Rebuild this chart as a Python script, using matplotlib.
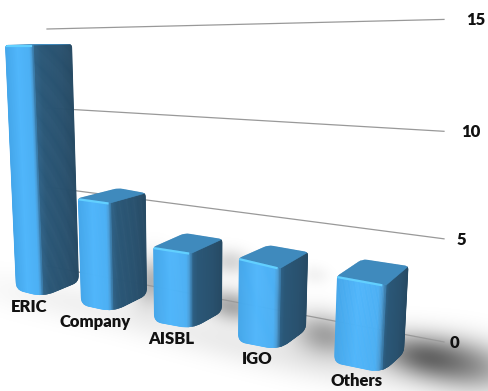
import numpy as np
from matplotlib import pyplot as plt
from matplotlib.colors import LinearSegmentedColormap
from matplotlib.patches import PathPatch, Polygon
from matplotlib.path import Path

categories = ["ERIC", "Company", "AISBL", "IGO", "Others"]
values = [14, 6, 4, 4, 4]
ticks = [0, 5, 10, 15]

# floor corners of every bar: front-left, front, front-right, back (x, y, px per unit)
floor = [
    [(16, 290, 17.5), (43, 297, 18.0), (79, 282, 17.0), (50, 268, 16.0)],
    [(81, 305, 17.8), (113, 312, 18.2), (147, 295, 17.0), (120, 287, 16.5)],
    [(154, 322, 18.75), (192, 329, 19.0), (222, 312, 18.25), (185, 303, 17.5)],
    [(238, 342, 21.0), (279, 350, 20.5), (306, 330, 19.5), (267, 321, 19.0)],
    [(334, 363, 21.75), (382, 373, 22.0), (404, 353, 21.75), (359, 341, 20.5)],
]
label_pos = [(29, 307), (95, 322), (171, 339), (257, 359), (357, 381)]
tick_pos = [(455, 343), (461, 240), (471, 132), (476, 20)]

# columns lean towards a point far below the chart
VP_X, VP_Y = 197, 4326

front_cm = LinearSegmentedColormap.from_list(
    "front", [(0, "#44a6ea"), (0.45, "#50b6fb"), (0.86, "#4cb0f4"), (0.95, "#4a9bd4"), (1, "#35739f")])
side_cm = LinearSegmentedColormap.from_list(
    "side", [(0, "#2f6388"), (0.2, "#2a5777"), (0.7, "#29516e"), (1, "#264a64")])

plt.rcParams['font.family'] = ['Lato', 'DejaVu Sans']
fig = plt.figure(figsize=(4.88, 3.91), dpi=100)
ax = fig.add_axes([0, 0, 1, 1])
ax.set_xlim(0, 488)
ax.set_ylim(391, 0)
ax.axis("off")


def top_of(corner, value):
    xg, yg, s = corner
    y = yg - s * value
    return (VP_X + (xg - VP_X) * (VP_Y - y) / (VP_Y - yg), y)


def lerp(a, b, t):
    return (a[0] + (b[0] - a[0]) * t, a[1] + (b[1] - a[1]) * t)


def rounded(points, radii):
    # closed path with quadratic corners
    verts, codes = [], []
    n = len(points)
    for i in range(n):
        p = np.array(points[i], float)
        a = np.array(points[i - 1], float)
        b = np.array(points[(i + 1) % n], float)
        r = radii[i]
        start = p + (a - p) / np.linalg.norm(a - p) * r
        end = p + (b - p) / np.linalg.norm(b - p) * r
        verts += [start, p, end]
        codes += [Path.MOVETO if i == 0 else Path.LINETO, Path.CURVE3, Path.CURVE3]
    verts.append(verts[0])
    codes.append(Path.CLOSEPOLY)
    return Path(verts, codes)


# soft shadows on the floor
xx, yy = np.meshgrid(np.arange(488) + 0.5, np.arange(391) + 0.5)
blobs = [
    (425, 357, 34, 15, 10, 0.55), (472, 366, 34, 18, 10, 0.32),
    (325, 335, 24, 15, 12, 0.36), (232, 306, 20, 11, 12, 0.34),
    (152, 282, 13, 17, 8, 0.30), (230, 262, 14, 9, 5, 0.16),
    (315, 275, 10, 7, 5, 0.05), (200, 335, 90, 14, 14, 0.05),
    (310, 362, 90, 14, 14, 0.05), (60, 300, 60, 14, 10, 0.04),
]
dark = np.zeros(xx.shape)
for cx, cy, sx, sy, ang, a in blobs:
    c, s = np.cos(np.radians(ang)), np.sin(np.radians(ang))
    u = (xx - cx) * c + (yy - cy) * s
    v = -(xx - cx) * s + (yy - cy) * c
    dark = 1 - (1 - dark) * (1 - a * np.exp(-0.5 * (u / sx) ** 2 - 0.5 * (v / sy) ** 2))
shade = np.zeros(xx.shape + (4,))
shade[..., 3] = dark
ax.imshow(shade, extent=(0, 488, 391, 0), zorder=1, aspect="auto", interpolation="bilinear")

# gridlines on the back wall, spacing widens with height on the right
for v in ticks:
    y_left = 266 - 15.8 * v
    y_right = 342 - v * (20.2 + 0.087 * v)
    ax.plot([47, 444], [y_left, y_right], color="#999999", lw=0.9, zorder=2)

for t, (x, y) in zip(ticks, tick_pos):
    ax.text(x, y, str(t), fontsize=12, fontweight="heavy", color="#111111",
            ha="center", va="center", zorder=8)

for i, (name, val) in enumerate(zip(categories, values)):
    fl_g, fc_g, fr_g, b_g = floor[i]
    fl_g2, fc_g2, fr_g2 = fl_g[:2], fc_g[:2], fr_g[:2]
    fl_t, fc_t, fr_t, b_t = [top_of(c, val) for c in floor[i]]
    z = 3 + i

    outline = rounded([fl_g2, fc_g2, fr_g2, fr_t, b_t, fl_t], [8, 13, 7, 4, 5, 3])
    clip = PathPatch(outline, transform=ax.transData, fc="none", ec="none")
    ax.add_patch(clip)

    strips = 40
    for k in range(strips):
        t0, t1 = k / strips, (k + 1) / strips
        col = front_cm((t0 + t1) / 2)
        quad = [lerp(fl_t, fc_t, t0), lerp(fl_t, fc_t, t1), lerp(fl_g2, fc_g2, t1), lerp(fl_g2, fc_g2, t0)]
        pa = Polygon(quad, fc=col, ec=col, lw=0.5, zorder=z)
        ax.add_patch(pa)
        pa.set_clip_path(clip)
        col = side_cm((t0 + t1) / 2)
        quad = [lerp(fc_t, fr_t, t0), lerp(fc_t, fr_t, t1), lerp(fc_g2, fr_g2, t1), lerp(fc_g2, fr_g2, t0)]
        pa = Polygon(quad, fc=col, ec=col, lw=0.5, zorder=z)
        ax.add_patch(pa)
        pa.set_clip_path(clip)

    pa = Polygon([fl_t, fc_t, fr_t, b_t], fc="#3f8abd", ec="#3f8abd", lw=0.5, zorder=z + 0.1)
    ax.add_patch(pa)
    pa.set_clip_path(clip)

    # bright rim along the front top edge
    rim_a = lerp(fl_t, fc_t, 0.02)
    rim_b = lerp(fl_t, fc_t, 0.9)
    rim, = ax.plot([rim_a[0], rim_b[0]], [rim_a[1] + 1, rim_b[1] + 1], color="#62d0ff", lw=1.6, zorder=z + 0.2)
    rim.set_clip_path(clip)

    ax.text(label_pos[i][0], label_pos[i][1], name, fontsize=12, fontweight="heavy",
            color="#111111", ha="center", va="center", zorder=8)

fig.savefig("out.png", dpi=100)
